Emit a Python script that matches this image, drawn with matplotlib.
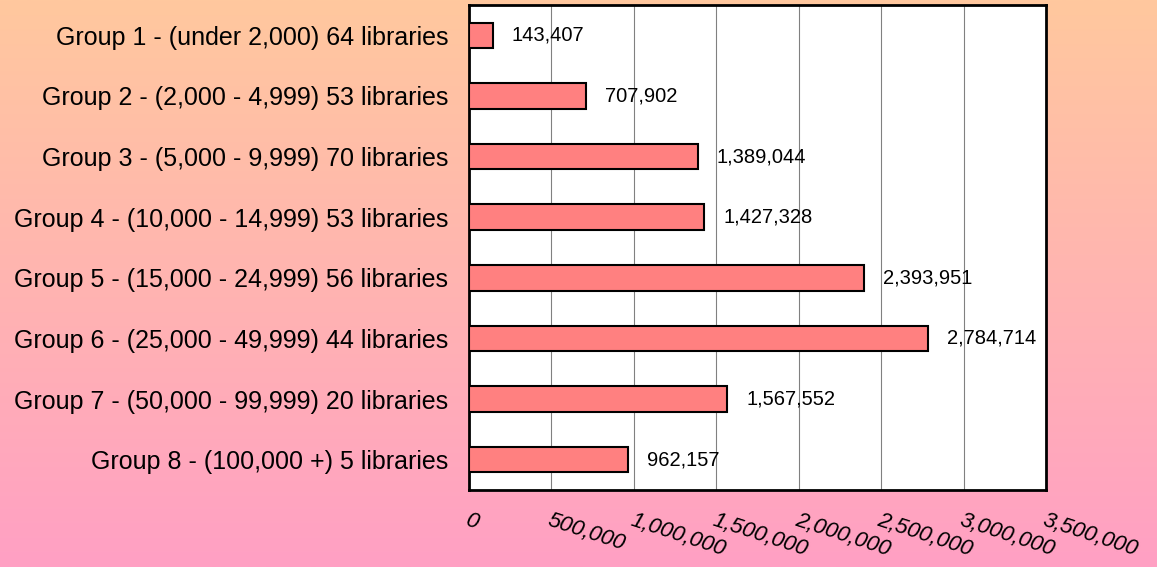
import matplotlib.pyplot as plt
import numpy as np

groups = [
    "Group 1 - (under 2,000) 64 libraries",
    "Group 2 - (2,000 - 4,999) 53 libraries",
    "Group 3 - (5,000 - 9,999) 70 libraries",
    "Group 4 - (10,000 - 14,999) 53 libraries",
    "Group 5 - (15,000 - 24,999) 56 libraries",
    "Group 6 - (25,000 - 49,999) 44 libraries",
    "Group 7 - (50,000 - 99,999) 20 libraries",
    "Group 8 - (100,000 +) 5 libraries",
]
values = [143407, 707902, 1389044, 1427328, 2393951, 2784714, 1567552, 962157]
xticks = [0, 500000, 1000000, 1500000, 2000000, 2500000, 3000000, 3500000]

plt.rcParams["font.family"] = ["Liberation Sans", "DejaVu Sans"]

fig = plt.figure(figsize=(11.57, 5.67), dpi=100)

# gradient background, peach at top to pink at bottom
bg = fig.add_axes([0, 0, 1, 1], zorder=-10)
top = np.array([255, 200, 158]) / 255
bottom = np.array([255, 160, 196]) / 255
t = np.linspace(0, 1, 256)[:, None]
grad = top + (bottom - top) * t
bg.imshow(grad[:, None, :], aspect="auto", extent=[0, 1, 0, 1])
bg.axis("off")

ax = fig.add_axes([469 / 1157, 1 - 490 / 567, 577 / 1157, 485 / 567])
ax.set_facecolor("white")

y = np.arange(len(groups))
ax.barh(y, values, height=0.42, color="#FF8080", edgecolor="black", linewidth=1.5, zorder=3)
for yi, v in zip(y, values):
    ax.text(v + 115000, yi, f"{v:,}", va="center", ha="left", fontsize=14.5, zorder=4)

ax.set_xlim(0, 3500000)
ax.set_ylim(len(groups) - 0.5, -0.5)
ax.set_yticks(y)
ax.set_yticklabels(groups, fontsize=18)
ax.set_xticks(xticks)
ax.set_xticklabels([f"{v:,}" for v in xticks], fontsize=16, style="italic",
                   rotation=-18, rotation_mode="anchor", ha="left", va="top")
ax.tick_params(axis="y", length=0, pad=15)
ax.tick_params(axis="x", length=0, pad=14)
ax.grid(axis="x", color="gray", linewidth=0.8, zorder=1)
for s in ax.spines.values():
    s.set_linewidth(2)

fig.savefig("out.png", dpi=100)
